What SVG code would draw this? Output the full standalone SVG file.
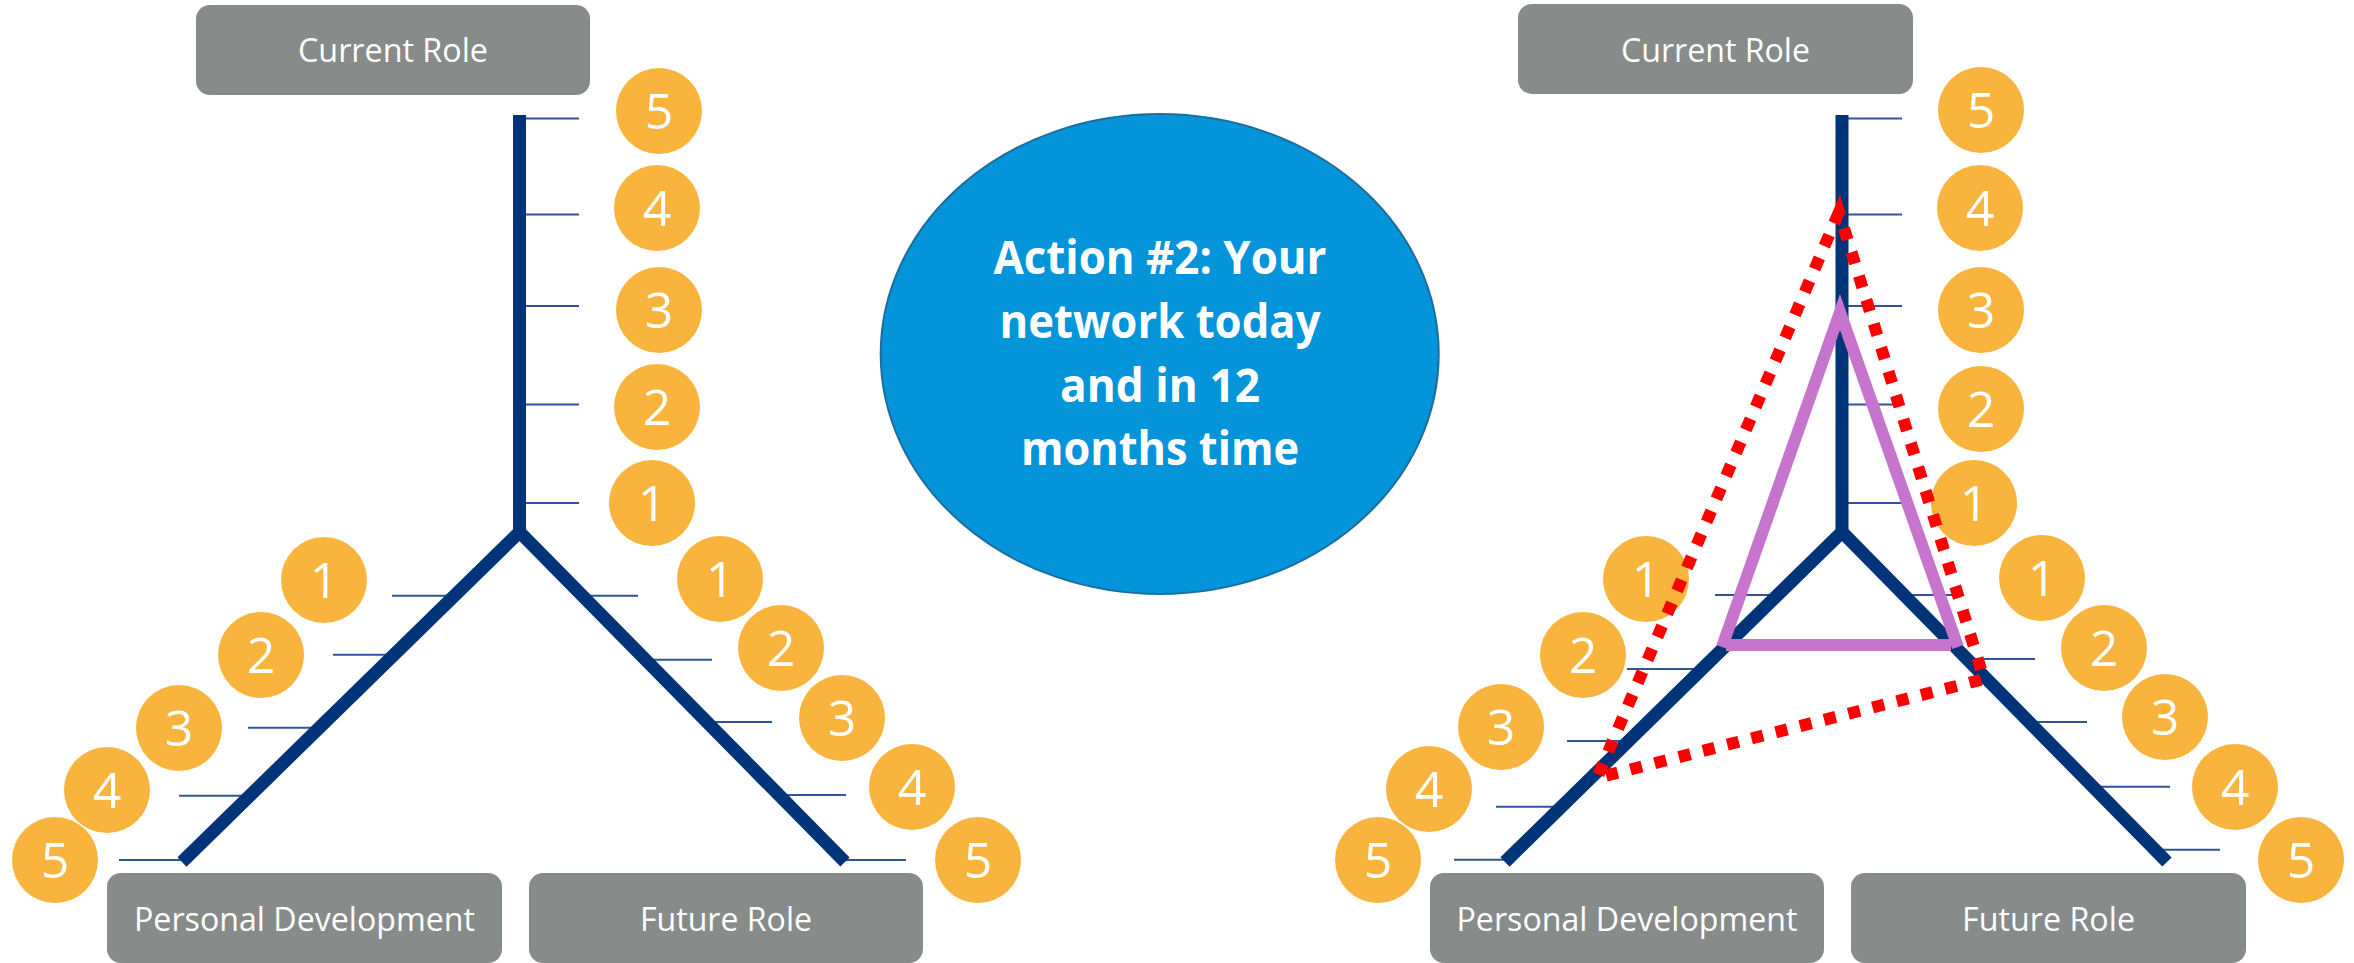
<svg xmlns="http://www.w3.org/2000/svg" width="2354" height="963" viewBox="0 0 2354 963">
<style>
.box{fill:#878B8A}
.lbl{font-family:"Open Sans","Liberation Sans",sans-serif;font-size:32px;fill:#fff;text-anchor:middle}
.num circle{fill:#F9B43D}
.num text{font-family:"Open Sans","Liberation Sans",sans-serif;font-size:50px;fill:#fff;text-anchor:middle}
.axis{stroke:#003478;stroke-width:13;fill:none;stroke-linejoin:miter}
.tick{stroke:#2E5597;stroke-width:2;fill:none}
.title{font-family:"Open Sans","Liberation Sans",sans-serif;font-weight:bold;font-size:46px;fill:#fff;text-anchor:middle}
.purple{stroke:#C774CF;stroke-width:12;fill:none}
.reddot{stroke:#FF0000;stroke-width:12;fill:none;stroke-dasharray:12 13}
</style>

<!-- Title ellipse -->
<g id="title">
<ellipse cx="1159.7" cy="354" rx="279" ry="240" fill="#0394D9" stroke="#1D6C9E" stroke-width="2"/>
<text class="title" x="1160" y="274" textLength="333" lengthAdjust="spacingAndGlyphs">Action #2: Your</text>
<text class="title" x="1160" y="338" textLength="321" lengthAdjust="spacingAndGlyphs">network today</text>
<text class="title" x="1160" y="402" textLength="200" lengthAdjust="spacingAndGlyphs">and in 12</text>
<text class="title" x="1160" y="465" textLength="278" lengthAdjust="spacingAndGlyphs">months time</text>
</g>

<!-- Label boxes -->
<g id="left-current-role"><rect class="box" x="196" y="5" width="394" height="90" rx="14"/><text class="lbl" x="393" y="62" textLength="190" lengthAdjust="spacingAndGlyphs">Current Role</text></g>
<g id="left-personal-dev"><rect class="box" x="107" y="873" width="395" height="90" rx="14"/><text class="lbl" x="304.5" y="931" textLength="341" lengthAdjust="spacingAndGlyphs">Personal Development</text></g>
<g id="left-future-role"><rect class="box" x="529" y="873" width="394" height="90" rx="14"/><text class="lbl" x="726" y="931" textLength="172" lengthAdjust="spacingAndGlyphs">Future Role</text></g>
<g id="right-current-role"><rect class="box" x="1518" y="4" width="395" height="90" rx="14"/><text class="lbl" x="1715.5" y="62" textLength="189" lengthAdjust="spacingAndGlyphs">Current Role</text></g>
<g id="right-personal-dev"><rect class="box" x="1430" y="873" width="394" height="90" rx="14"/><text class="lbl" x="1627" y="931" textLength="341" lengthAdjust="spacingAndGlyphs">Personal Development</text></g>
<g id="right-future-role"><rect class="box" x="1851" y="873" width="395" height="90" rx="14"/><text class="lbl" x="2048.5" y="931" textLength="173" lengthAdjust="spacingAndGlyphs">Future Role</text></g>

<g id="connectors">
<!-- ticks left diagram -->
<g class="tick">
<path d="M526 118.6H579M526 214.6H579M526 306H579M526 404.6H579M526 503H579"/>
<path d="M392 595.7H454M333 654.7H394M248 727.7H319M179 795.7H250M119 860H184"/>
<path d="M582 595.7H638M645 659.7H712M707 722H772M779 795H846M843 860H906"/>
<path d="M1848 118.6H1902M1848 214.6H1902M1848 306H1902M1848 404.6H1902M1848 503H1902"/>
<path d="M1715 595H1777M1627 669H1702M1567 741H1628M1496 806.7H1561M1454 859.7H1507"/>
<path d="M1904 595H1962M1967 659H2035M2029 722H2087M2093 786.7H2170M2155 849.7H2220"/>
</g>
<!-- axes -->
<path class="axis" d="M519.5 115V532M182 862L519.5 532L845 862"/>
<path class="axis" d="M1842 115V532M1505 862L1842 532L2167 862"/>
</g>

<!-- rating circles -->
<g class="num">
<g id="l-v5"><circle cx="659" cy="111" r="43"/><text x="659" y="129">5</text></g>
<g id="l-v4"><circle cx="657" cy="208" r="43"/><text x="657" y="226">4</text></g>
<g id="l-v3"><circle cx="659" cy="310" r="43"/><text x="659" y="328">3</text></g>
<g id="l-v2"><circle cx="657" cy="407" r="43"/><text x="657" y="425">2</text></g>
<g id="l-v1"><circle cx="652" cy="503" r="43"/><text x="652" y="521">1</text></g>

<g id="l-l1"><circle cx="324" cy="580" r="43"/><text x="324" y="598">1</text></g>
<g id="l-l2"><circle cx="261" cy="655" r="43"/><text x="261" y="673">2</text></g>
<g id="l-l3"><circle cx="179" cy="728" r="43"/><text x="179" y="746">3</text></g>
<g id="l-l4"><circle cx="107" cy="790" r="43"/><text x="107" y="808">4</text></g>
<g id="l-l5"><circle cx="55" cy="860" r="43"/><text x="55" y="878">5</text></g>

<g id="l-r1"><circle cx="720" cy="579" r="43"/><text x="720" y="597">1</text></g>
<g id="l-r2"><circle cx="781" cy="648" r="43"/><text x="781" y="666">2</text></g>
<g id="l-r3"><circle cx="842" cy="718" r="43"/><text x="842" y="736">3</text></g>
<g id="l-r4"><circle cx="912" cy="787" r="43"/><text x="912" y="805">4</text></g>
<g id="l-r5"><circle cx="978" cy="860" r="43"/><text x="978" y="878">5</text></g>

<g id="r-v5"><circle cx="1981" cy="110" r="43"/><text x="1981" y="128">5</text></g>
<g id="r-v4"><circle cx="1980" cy="208" r="43"/><text x="1980" y="226">4</text></g>
<g id="r-v3"><circle cx="1981" cy="310" r="43"/><text x="1981" y="328">3</text></g>
<g id="r-v2"><circle cx="1981" cy="409" r="43"/><text x="1981" y="427">2</text></g>
<g id="r-v1"><circle cx="1974" cy="503" r="43"/><text x="1974" y="521">1</text></g>

<g id="r-l1"><circle cx="1646" cy="579" r="43"/><text x="1646" y="597">1</text></g>
<g id="r-l2"><circle cx="1583" cy="655" r="43"/><text x="1583" y="673">2</text></g>
<g id="r-l3"><circle cx="1501" cy="727" r="43"/><text x="1501" y="745">3</text></g>
<g id="r-l4"><circle cx="1429" cy="789" r="43"/><text x="1429" y="807">4</text></g>
<g id="r-l5"><circle cx="1378" cy="860" r="43"/><text x="1378" y="878">5</text></g>

<g id="r-r1"><circle cx="2042" cy="578" r="43"/><text x="2042" y="596">1</text></g>
<g id="r-r2"><circle cx="2104" cy="648" r="43"/><text x="2104" y="666">2</text></g>
<g id="r-r3"><circle cx="2165" cy="717" r="43"/><text x="2165" y="735">3</text></g>
<g id="r-r4"><circle cx="2235" cy="787" r="43"/><text x="2235" y="805">4</text></g>
<g id="r-r5"><circle cx="2301" cy="860" r="43"/><text x="2301" y="878">5</text></g>
</g>

<!-- network shapes -->
<g id="network-today">
<path class="purple" d="M1722 647L1840 312L1958 647"/>
<path class="purple" d="M1726 645H1951"/>
</g>
<g id="network-12-months">
<path class="reddot" d="M1839 212L1597 778L1984 679Z"/>
</g>
</svg>
